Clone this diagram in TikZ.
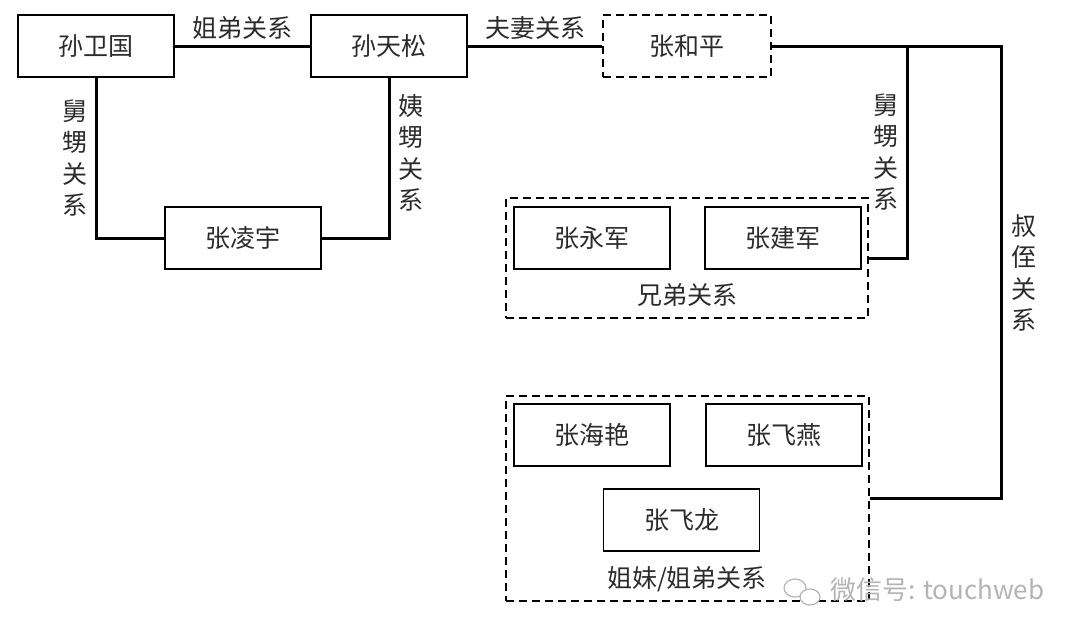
\documentclass[tikz,border=0pt]{standalone}
\usepackage{fontspec}
\setmainfont{Noto Sans CJK SC}
\usepackage{tikz}
\usetikzlibrary{fit,positioning,shapes}
\definecolor{txt}{HTML}{2B2B2B}
\definecolor{wmgray}{HTML}{B4B4B4}

\begin{document}
\begin{tikzpicture}[x = 1pt, y = -1pt,
    person/.style = {draw, line width = 1.4pt, minimum width = 156pt, minimum height = 62pt, inner sep = 0pt, text = txt},
    group/.style = {draw, line width = 1.5pt, dash pattern = on 8pt off 5pt, inner sep = 0pt},
    link/.style = {line width = 3pt},
    rel/.style = {text = txt, inner sep = 0pt},
    vrel/.style = {text = txt, inner sep = 0pt, align = center, font = \fontsize{25}{31.5}\selectfont}]
    \useasboundingbox (0,0) rectangle (1080,638);
    \fontsize{25}{30}\selectfont
    \node[person] (wgu) at (96,46) {孙卫国};
    \node[person] (tsong) at (389,46) {孙天松};
    \node[person] (lyu) at (243,238) {张凌宇};
    \node[group, minimum width = 168pt, minimum height = 62pt, text = txt] (hping) at (687,46) {张和平};
    \node[group, minimum width = 362pt, minimum height = 120pt] (xd) at (687,258) {};
    \node[person] (yjun) at (592,238) {张永军};
    \node[person] (jjun) at (783,238) {张建军};
    \node[group, minimum width = 363pt, minimum height = 205pt] (zm) at (687.5,498.5) {};
    \node[person] (hyan) at (592,435) {张海艳};
    \node[person] (fyan) at (784,435) {张飞燕};
    \node[person] (flong) at (681.5,520) {张飞龙};
    \node[rel] (sdlbl) at (242,28) {姐弟关系};
    \node[rel] (fqlbl) at (535.5,28) {夫妻关系};
    \node[rel] (xdlbl) at (687,295) {兄弟关系};
    \node[rel] (zmlbl) at (687,579) {姐妹/姐弟关系};
    \node[vrel] (jslbl) at (74.5,158) {舅\\甥\\关\\系};
    \node[vrel] (yslbl) at (411,153) {姨\\甥\\关\\系};
    \node[vrel] (jslblb) at (886,152) {舅\\甥\\关\\系};
    \node[vrel] (szlbl) at (1024,273) {叔\\侄\\关\\系};
    \coordinate (fork) at (907,46);
    \coordinate (turn) at (1001,46);
    \draw[link] (wgu.east) -- (tsong.west);
    \draw[link] (tsong.east) -- (hping.west);
    \draw[link] (wgu.south) |- (lyu.west);
    \draw[link] (tsong.south) |- (lyu.east);
    \draw[link] (hping.east) -- (turn) |- (zm.east);
    \draw[link] (fork) |- (xd.east);
    \draw[wmgray, line width = 1.2pt] (795,588) ellipse (11 and 9);
    \draw[wmgray, line width = 1.2pt, fill = white] (810,597) ellipse (10 and 8);
    \node[text = wmgray, inner sep = 0pt, anchor = west, font = \fontsize{26}{30}\selectfont] (wmark) at (830,590) {微信号: touchweb};
\end{tikzpicture}
\end{document}
